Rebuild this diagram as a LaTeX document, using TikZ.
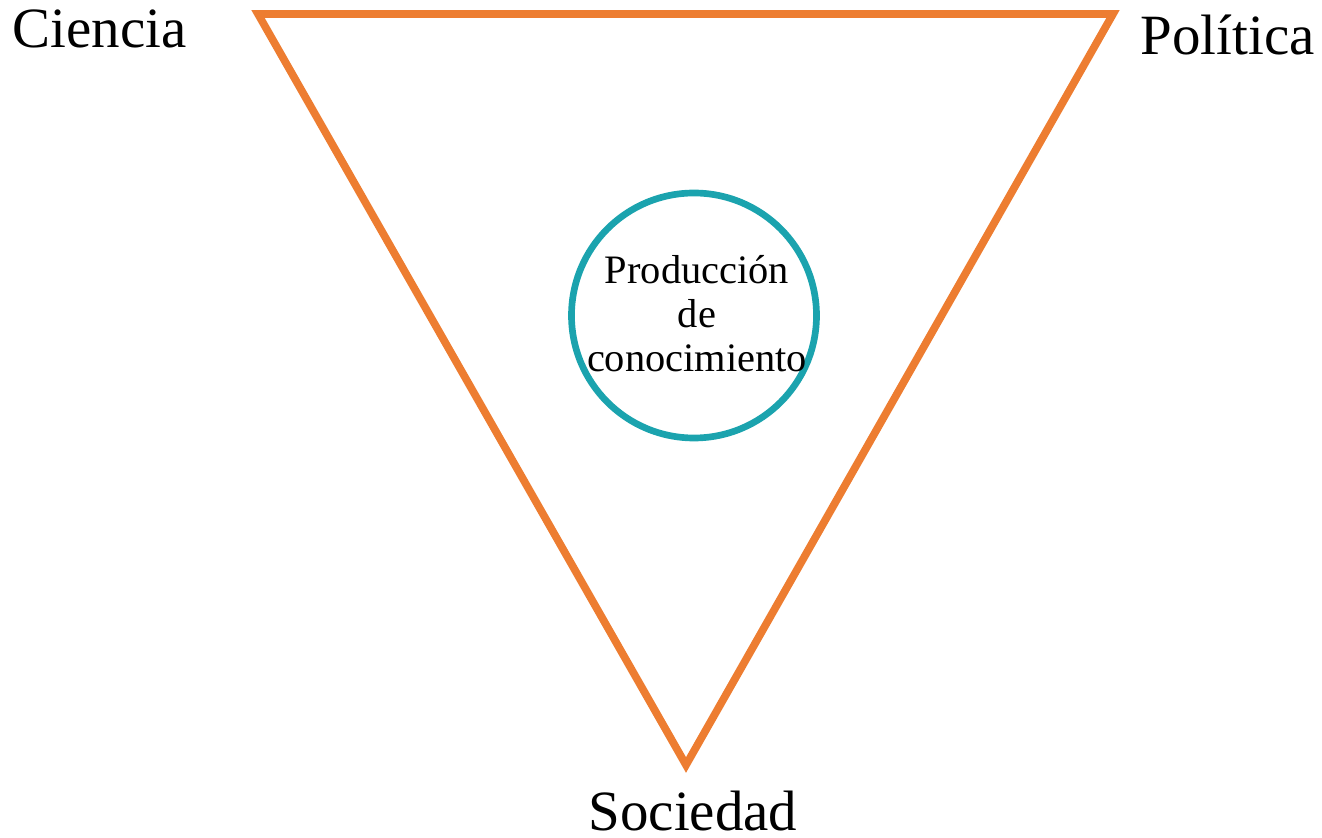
\documentclass[tikz,border=0pt]{standalone}
\usepackage{fontspec}
\setmainfont{Liberation Serif}
\usepackage{tikz}
\usetikzlibrary{calc}

\definecolor{trianglecolor}{HTML}{ED7D31}
\definecolor{circlecolor}{HTML}{1BA3AE}

\begin{document}
\begin{tikzpicture}[
		corner/.style={font=\fontsize{16.2}{19}\selectfont, inner sep=0pt, anchor=base west},
		centre/.style={font=\fontsize{11.5}{12.5}\selectfont, align=center, inner sep=0pt}
	]
		\useasboundingbox (0,0) rectangle (13.22,8.37);
		\coordinate (ciencia) at (2.58,8.23);
		\coordinate (politica) at (11.13,8.23);
		\coordinate (sociedad) at (6.86,0.72);
		\coordinate (c) at (6.94,5.215);
		\draw [trianglecolor,line width=2.2pt] (ciencia) -- (politica) -- (sociedad) -- cycle;
		\draw [circlecolor,line width=1.9pt] (c) circle (1.225);
		\node[centre] (prod) at ($(c)+(0.03,0.02)$) {Producción\\de\\conocimiento};
		\node[corner] (lc) at (0.12,7.89) {Ciencia};
		\node[corner] (lp) at (11.40,7.82) {Política};
		\node[corner] (ls) at (5.88,0.07) {Sociedad};
	\end{tikzpicture}
\end{document}
